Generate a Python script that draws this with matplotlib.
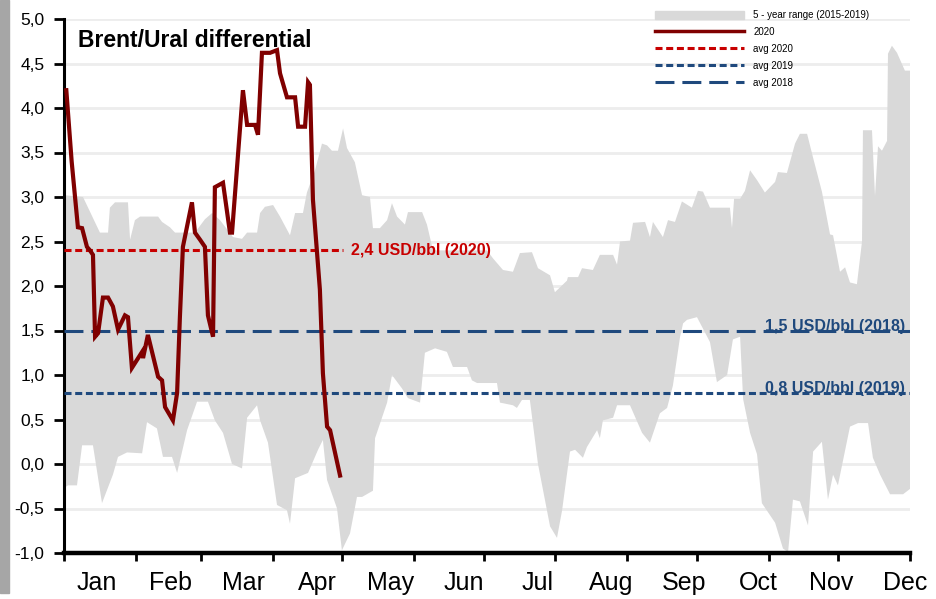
import matplotlib.pyplot as plt
import numpy as np
from matplotlib.lines import Line2D
from matplotlib.patches import Patch, Rectangle

plt.rcParams['font.family'] = ['Liberation Sans', 'DejaVu Sans']

# 5-year range (2015-2019), upper and lower edges, by day of year
upper_day = [0.0, 8.2, 15.5, 19.0, 19.8, 22.0, 27.6, 28.5, 30.6, 32.8, 40.6, 42.3, 45.7, 47.9, 51.3,
             56.5, 60.8, 63.9, 67.3, 72.9, 76.8, 79.0, 83.3, 84.6, 86.7, 90.2, 93.2, 97.5, 99.7, 103.1,
             104.8, 108.3, 111.3, 113.5, 115.6, 118.2, 120.4, 122.1, 125.5, 128.6, 132.0, 133.3, 136.3,
             139.4, 141.5, 143.7, 147.1, 148.4, 154.5, 156.6, 159.2, 182.5, 185.1, 189.4, 193.7, 196.7,
             201.9, 204.5, 209.7, 211.8, 217.0, 217.4, 221.8, 223.5, 228.2, 231.2, 236.9, 238.6, 239.9,
             244.2, 245.5, 250.7, 252.8, 254.1, 258.4, 260.6, 263.6, 266.6, 270.9, 273.5, 275.7, 278.7,
             287.3, 288.2, 289.1, 291.7, 293.8, 296.0, 299.0, 302.4, 306.8, 308.0, 311.9, 315.4, 317.5,
             320.6, 323.2, 327.0, 330.5, 331.8, 334.8, 337.0, 339.1, 342.1, 344.3, 344.7, 348.6, 349.9,
             351.2, 352.9, 355.1, 355.5, 357.2, 359.4, 362.8, 365.0]
upper_val = [3.02, 3.0, 2.6, 2.6, 2.88, 2.94, 2.94, 2.52, 2.74, 2.78, 2.78, 2.72, 2.66, 2.6, 2.6,
             2.6, 2.75, 2.82, 2.74, 2.55, 2.53, 2.6, 2.6, 2.82, 2.89, 2.91, 2.78, 2.57, 2.82, 2.82,
             3.05, 3.3, 3.6, 3.58, 3.52, 3.52, 3.77, 3.55, 3.39, 3.02, 3.0, 2.65, 2.65,
             2.74, 2.93, 2.78, 2.69, 2.83, 2.83, 2.69, 2.4, 2.4, 2.31, 2.18, 2.16, 2.37,
             2.38, 2.2, 2.12, 1.93, 2.06, 2.1, 2.1, 2.2, 2.18, 2.35, 2.35, 2.24, 2.5,
             2.51, 2.71, 2.72, 2.55, 2.72, 2.55, 2.74, 2.72, 2.95, 2.88, 3.07, 3.06, 2.88,
             2.88, 2.65, 2.98, 2.98, 3.07, 3.3, 3.19, 3.05, 3.17, 3.28, 3.27, 3.6, 3.71,
             3.71, 3.44, 3.06, 2.58, 2.57, 2.16, 2.21, 2.04, 2.02, 2.5, 3.75, 3.75, 3.01,
             3.57, 3.52, 3.63, 4.61, 4.7, 4.62, 4.42, 4.42]

lower_day = [0.0, 1.7, 5.6, 7.8, 12.5, 16.4, 21.1, 23.3, 27.2, 33.7, 35.8, 40.1, 42.7, 46.6, 48.8,
             53.1, 57.4, 62.1, 65.1, 68.6, 72.5, 76.8, 79.0, 83.3, 84.6, 88.0, 91.9, 96.2, 97.5, 99.7,
             105.3, 109.6, 111.7, 113.5, 117.8, 119.9, 123.4, 126.4, 128.6, 133.3, 134.2, 139.4, 141.5,
             145.8, 148.4, 153.6, 155.7, 160.1, 165.2, 167.8, 173.9, 176.0, 178.2, 186.8, 188.1, 193.7,
             195.4, 197.6, 201.0, 204.5, 209.7, 212.7, 214.9, 218.3, 220.5, 223.9, 225.6, 230.0, 231.2,
             232.5, 236.9, 238.6, 244.2, 249.4, 252.8, 257.1, 260.2, 262.7, 265.8, 267.1, 268.8, 273.1,
             278.7, 281.7, 286.1, 288.6, 291.7, 293.0, 296.0, 299.0, 301.1, 306.8, 310.2, 312.4, 314.5,
             317.5, 321.0, 323.2, 327.0, 329.6, 331.8, 333.9, 339.1, 342.6, 346.9, 349.0, 352.1, 356.4,
             362.0, 365.0]
lower_val = [-0.27, -0.24, -0.24, 0.21, 0.21, -0.44, -0.12, 0.08, 0.13, 0.12, 0.47, 0.4, 0.08, 0.08, -0.1,
             0.38, 0.7, 0.7, 0.49, 0.35, 0.0, -0.05, 0.52, 0.66, 0.49, 0.24, -0.46, -0.52, -0.67, -0.16,
             -0.1, 0.16, 0.27, -0.18, -0.5, -0.97, -0.78, -0.37, -0.37, -0.3, 0.29, 0.69, 1.0,
             0.85, 0.74, 0.69, 1.25, 1.3, 1.26, 1.09, 1.09, 0.94, 0.91, 0.91, 0.69, 0.66,
             0.63, 0.72, 0.72, 0.0, -0.7, -0.83, -0.52, 0.14, 0.16, 0.07, 0.19, 0.38, 0.29,
             0.49, 0.52, 0.66, 0.66, 0.35, 0.24, 0.57, 0.63, 0.88, 1.43, 1.58, 1.62, 1.65,
             1.37, 0.92, 1.0, 1.4, 1.43, 0.73, 0.35, 0.11, -0.44, -0.66, -0.95, -0.99, -0.4,
             -0.42, -0.69, 0.14, 0.25, -0.4, -0.12, -0.24, 0.42, 0.46, 0.46, 0.07, -0.12, -0.34,
             -0.34, -0.28]

# 2020 Brent/Urals differential, USD/bbl
day_2020 = [1.0, 3.3, 6.0, 7.8, 9.9, 11.2, 12.5, 13.4, 14.7, 16.8, 19.0, 21.1, 23.3, 26.3, 27.6,
            29.3, 33.7, 34.1, 36.2, 40.6, 42.3, 43.6, 47.0, 48.8, 50.0, 51.3, 55.2, 56.5, 58.7, 60.8,
            62.1, 64.3, 65.1, 68.6, 71.6, 72.5, 77.2, 79.0, 82.4, 83.7, 85.4, 88.9, 91.9, 93.2, 96.2,
            99.7, 101.0, 104.0, 105.3, 106.1, 107.4, 110.4, 111.7, 113.5, 114.8, 119.1]
val_2020 = [4.2, 3.4, 2.66, 2.65, 2.44, 2.4, 2.35, 1.43, 1.47, 1.87, 1.87, 1.77, 1.51, 1.67, 1.65,
            1.08, 1.26, 1.19, 1.45, 0.98, 0.94, 0.64, 0.49, 0.8, 1.65, 2.44, 2.94, 2.6, 2.52, 2.44,
            1.67, 1.43, 3.11, 3.16, 2.6, 2.6, 4.2, 3.81, 3.81, 3.7, 4.62, 4.62, 4.65, 4.39, 4.12,
            4.12, 3.79, 3.79, 4.29, 4.26, 2.97, 1.96, 1.02, 0.42, 0.38, -0.13]

avg_2020 = 2.4
avg_2019 = 0.8
avg_2018 = 1.5

month_starts = [0, 31, 59, 90, 120, 151, 181, 212, 243, 273, 304, 334, 365]
month_names = ['Jan', 'Feb', 'Mar', 'Apr', 'May', 'Jun', 'Jul', 'Aug', 'Sep', 'Oct', 'Nov', 'Dec']
y_ticks = np.arange(-1.0, 5.01, 0.5)

dark_red = '#800000'
red = '#C80000'
navy = '#1F497D'

fig = plt.figure(figsize=(9.37, 5.99), dpi=100)
fig.patches.append(Rectangle((0, 0.01), 9 / 937, 0.99, transform=fig.transFigure,
                             color='#A6A6A6', zorder=0))
ax = fig.add_axes([64 / 937, 1 - 553 / 599, 846 / 937, 534 / 599])

ax.fill(np.concatenate([upper_day, lower_day[::-1]]),
        np.concatenate([upper_val, lower_val[::-1]]),
        color='#D9D9D9', lw=0, zorder=1)

ax.plot([0, 120.4], [avg_2020, avg_2020], color=red, lw=2.2, dashes=(2.3, 1.2), zorder=3)
ax.plot([0, 365], [avg_2019, avg_2019], color=navy, lw=2.2, dashes=(2.3, 1.2), zorder=3)
ax.plot([0, 365], [avg_2018, avg_2018], color=navy, lw=2.2, dashes=(6.2, 2.6), zorder=3)
ax.plot(day_2020, val_2020, color=dark_red, lw=3.0, solid_joinstyle='miter', zorder=4)

ax.text(124, avg_2020, '2,4 USD/bbl (2020)', color=red, fontsize=11.5, fontweight='bold',
        ha='left', va='center', zorder=5)
ax.text(363, avg_2018, '1,5 USD/bbl (2018)', color=navy, fontsize=11.5, fontweight='bold',
        ha='right', va='baseline', zorder=5)
ax.text(363, avg_2019, '0,8 USD/bbl (2019)', color=navy, fontsize=11.5, fontweight='bold',
        ha='right', va='baseline', zorder=5)

ax.text(0.016, 0.982, 'Brent/Ural differential', transform=ax.transAxes, fontsize=16.5,
        fontweight='bold', ha='left', va='top', zorder=5)

ax.set_xlim(0, 365)
ax.set_ylim(-1, 5)
ax.set_yticks(y_ticks)
ax.set_yticklabels([f'{v:.1f}'.replace('.', ',') for v in y_ticks], fontsize=12.5)
ax.yaxis.grid(True, color='#EDEDED', lw=2)
ax.set_axisbelow(True)

ax.set_xticks(month_starts)
ax.set_xticklabels([])
ax.set_xticks(np.linspace(14.2, 362.8, 12), minor=True)
ax.set_xticklabels(month_names, minor=True, fontsize=18)
ax.tick_params(axis='x', which='major', length=6, width=2, direction='out')
ax.tick_params(axis='x', which='minor', length=0, pad=13)
ax.tick_params(axis='y', length=7, width=2, direction='out', pad=7)

for side in ['top', 'right']:
    ax.spines[side].set_visible(False)
ax.spines['left'].set_linewidth(2.2)
ax.spines['bottom'].set_linewidth(3.2)

handles = [Patch(color='#D9D9D9'),
           Line2D([], [], color=dark_red, lw=2.5),
           Line2D([], [], color=red, lw=2.2, dashes=(2.3, 1.2)),
           Line2D([], [], color=navy, lw=2.2, dashes=(2.3, 1.2)),
           Line2D([], [], color=navy, lw=2.2, dashes=(6.2, 2.6))]
labels = ['5 - year range (2015-2019)', '2020', 'avg 2020', 'avg 2019', 'avg 2018']
leg = fig.legend(handles, labels, loc='upper left', bbox_to_anchor=(655 / 937, 1 - 10 / 599),
                 frameon=False, fontsize=7, handlelength=9.2, handleheight=0.9,
                 handletextpad=0.9, labelspacing=0.72, borderpad=0, borderaxespad=0)

fig.savefig('out.png', dpi=100)
